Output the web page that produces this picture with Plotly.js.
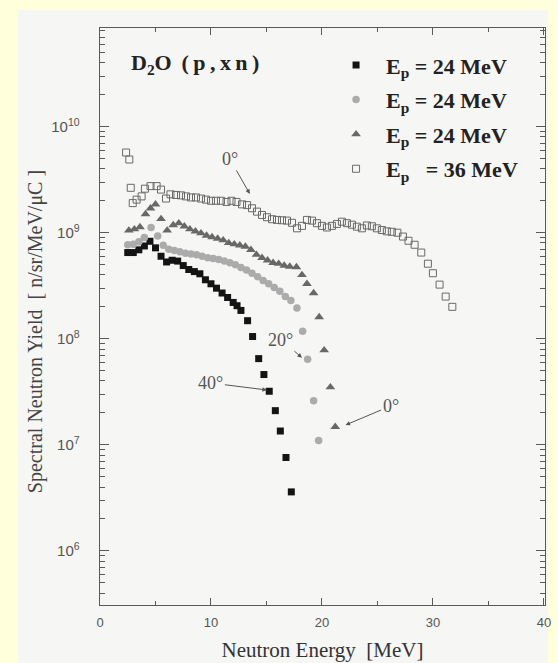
<!DOCTYPE html>
<html>
<head>
<meta charset="utf-8">
<script src="https://cdn.plot.ly/plotly-3.0.1.min.js"></script>
<style>
  html, body { margin: 0; padding: 0; background: #FFFFDC; }
  #chart { width: 558px; height: 663px; }
</style>
</head>
<body>
<div id="chart"></div>
<script>
// ---- data ----
const seriesNames = [
  "E<sub>p</sub> = 24 MeV",
  "E<sub>p</sub> = 24 MeV",
  "E<sub>p</sub> = 24 MeV",
  "E<sub>p</sub>\u00a0\u00a0 = 36 MeV"
];

// 40 deg, Ep = 24 MeV (filled black squares)
const x40 = [2.5, 3.0, 3.5, 4.0, 4.5, 5.0, 5.5, 6.0, 6.5, 7.0, 7.5, 8.0, 8.5, 9.0, 9.5,
             10.0, 10.5, 11.0, 11.5, 12.0, 12.35, 12.7, 13.3, 13.75, 14.3, 14.77, 15.25, 15.8, 16.25, 16.76, 17.24];
const y40 = [6.5e8, 6.5e8, 6.9e8, 7.5e8, 8.3e8, 7.2e8, 6.0e8, 5.3e8, 5.5e8, 5.4e8, 4.9e8, 4.5e8, 4.3e8, 4.1e8, 3.6e8,
             3.3e8, 3.0e8, 2.7e8, 2.45e8, 2.2e8, 2.05e8, 1.85e8, 1.48e8, 1.05e8, 6.5e7, 4.6e7, 3.2e7, 2.1e7, 1.35e7, 7.6e6, 3.6e6];

// 20 deg, Ep = 24 MeV (gray circles)
const x20 = [2.5, 3.0, 3.5, 4.0, 4.6, 5.2, 5.7, 6.2, 6.7, 7.2, 7.7, 8.2, 8.7, 9.2, 9.7,
             10.2, 10.7, 11.2, 11.7, 12.2, 12.7, 13.2, 13.7, 14.2, 14.7, 15.2, 15.7, 16.2, 16.7, 17.2,
             17.75, 18.26, 18.71, 19.25, 19.7];
const y20 = [7.7e8, 7.8e8, 8.2e8, 9.0e8, 1.12e9, 9.3e8, 7.6e8, 7.0e8, 6.8e8, 6.6e8, 6.4e8, 6.3e8, 6.2e8, 6.0e8, 5.8e8,
             5.7e8, 5.6e8, 5.4e8, 5.2e8, 5.0e8, 4.7e8, 4.45e8, 4.15e8, 3.85e8, 3.55e8, 3.3e8, 3.05e8, 2.8e8, 2.5e8, 2.3e8,
             1.95e8, 1.18e8, 6.4e7, 2.6e7, 1.1e7];

// 0 deg, Ep = 24 MeV (dark gray triangles)
const x0a = [2.6, 3.1, 3.6, 4.1, 4.55, 5.0, 5.5, 6.05, 6.6, 7.1, 7.6, 8.1, 8.6, 9.1, 9.6,
             10.1, 10.6, 11.1, 11.6, 12.1, 12.6, 13.1, 13.6, 14.1, 14.6, 15.1, 15.6, 16.1, 16.6, 17.1,
             17.7, 18.2, 18.65, 19.25, 19.75, 20.2, 20.76, 21.2];
const y0a = [1.05e9, 1.08e9, 1.13e9, 1.5e9, 1.7e9, 1.85e9, 1.35e9, 1.05e9, 1.18e9, 1.23e9, 1.15e9, 1.08e9, 1.03e9, 9.9e8, 9.4e8,
             9.1e8, 8.8e8, 8.5e8, 8.0e8, 7.8e8, 7.6e8, 7.4e8, 6.9e8, 6.2e8, 5.8e8, 5.5e8, 5.2e8, 5.1e8, 4.9e8, 4.8e8,
             4.75e8, 4.0e8, 3.3e8, 2.7e8, 1.6e8, 7.8e7, 3.5e7, 1.48e7];

// 0 deg, Ep = 36 MeV (open squares)
const x0b = [2.35, 2.64, 2.77, 2.95, 3.3, 3.75, 4.05, 4.55, 5.1, 5.5, 5.95, 6.35, 6.85, 7.3, 7.75,
             8.2, 8.65, 9.1, 9.55, 10.0, 10.45, 10.9, 11.4, 11.85, 12.3, 12.8, 13.25, 13.7, 14.15, 14.6,
             15.05, 15.5, 15.95, 16.4, 16.85, 17.3, 17.75, 18.2, 18.65, 19.1, 19.55, 20.0, 20.45, 20.9, 21.35,
             21.8, 22.25, 22.7, 23.15, 23.6, 24.05, 24.5, 24.95, 25.4, 25.85, 26.3, 26.8, 27.3, 27.8, 28.35,
             28.95, 29.55, 30.0, 30.6, 31.15, 31.75];
const y0b = [5.7e9, 4.9e9, 2.65e9, 1.9e9, 2.05e9, 2.2e9, 2.6e9, 2.75e9, 2.75e9, 2.55e9, 2.1e9, 2.3e9, 2.27e9, 2.25e9, 2.2e9,
             2.15e9, 2.15e9, 2.1e9, 2.05e9, 2.0e9, 2.0e9, 2.0e9, 1.95e9, 2.0e9, 1.95e9, 1.85e9, 1.82e9, 1.7e9, 1.58e9, 1.47e9,
             1.4e9, 1.34e9, 1.32e9, 1.31e9, 1.3e9, 1.24e9, 1.1e9, 1.16e9, 1.32e9, 1.3e9, 1.23e9, 1.16e9, 1.12e9, 1.16e9, 1.21e9,
             1.27e9, 1.23e9, 1.19e9, 1.14e9, 1.1e9, 1.17e9, 1.15e9, 1.1e9, 1.06e9, 1.03e9, 1.02e9, 1.0e9, 9.2e8, 8.4e8, 7.7e8,
             6.5e8, 5.1e8, 4.15e8, 3.24e8, 2.5e8, 2.0e8];

const xTickVals = [0, 10, 20, 30, 40];

// ---- styles ----
const serif = "Liberation Serif, Times New Roman, serif";
const sans = "Liberation Sans, Arial, sans-serif";
const axisGray = "#5a5a5a";

const traces = [
  { x: x40, y: y40, name: seriesNames[0], legendgroup: "a", mode: "markers", type: "scatter",
    marker: { symbol: "square", size: 7, color: "#141414" } },
  { x: x20, y: y20, name: seriesNames[1], legendgroup: "b", mode: "markers", type: "scatter",
    marker: { symbol: "circle", size: 7.5, color: "#ababab" } },
  { x: x0a, y: y0a, name: seriesNames[2], legendgroup: "c", mode: "markers", type: "scatter",
    marker: { symbol: "triangle-up", size: 8.5, color: "#686868" } },
  { x: x0b, y: y0b, name: seriesNames[3], legendgroup: "d", mode: "markers", type: "scatter",
    marker: { symbol: "square-open", size: 7, color: "#6a6a6a", line: { width: 1, color: "#6a6a6a" } } }
];

const annFont = { family: serif, size: 18, color: "#555" };
const arrow = { showarrow: true, arrowhead: 2, arrowsize: 0.9, arrowwidth: 1, arrowcolor: "#555", xref: "x", yref: "y" };

const layout = {
  width: 558, height: 663,
  margin: { l: 100, r: 13, t: 28, b: 58 },
  paper_bgcolor: "#FFFFDC",
  plot_bgcolor: "rgba(0,0,0,0)",
  showlegend: true,
  legend: {
    x: 0.508, y: 0.972, xanchor: "left", yanchor: "top",
    bgcolor: "rgba(0,0,0,0)", itemwidth: 50, tracegroupgap: 3,
    font: { family: serif, size: 22, color: "#222", weight: "bold" }
  },
  xaxis: {
    range: [0, 40.1], tickvals: xTickVals, ticks: "inside", ticklen: 7, tickcolor: axisGray,
    showline: true, linecolor: axisGray, linewidth: 1, mirror: "ticks",
    showgrid: false, zeroline: false,
    minor: { dtick: 5, tick0: 0, ticks: "inside", ticklen: 4, tickcolor: axisGray, showgrid: false },
    tickfont: { family: sans, size: 13, color: "#555" },
    ticklabelstandoff: 5,
    title: { text: "Neutron Energy\u00a0 [MeV]", font: { family: serif, size: 21, color: "#333" }, standoff: 13 }
  },
  yaxis: {
    type: "log", range: [5.49, 10.93], dtick: 1, exponentformat: "power", showexponent: "all",
    ticks: "inside", ticklen: 9, tickcolor: axisGray,
    showline: true, linecolor: axisGray, linewidth: 1, mirror: "ticks",
    showgrid: false, zeroline: false,
    minor: { dtick: "D1", ticks: "inside", ticklen: 5, tickcolor: axisGray, showgrid: false },
    tickfont: { family: sans, size: 12, color: "#555" },
    ticklabelstandoff: 17,
    title: { text: "Spectral Neutron Yield\u00a0 [ n/sr/MeV/\u03bcC ]<span style='color:rgba(0,0,0,0)'>nnn</span>",
             font: { family: serif, size: 20, color: "#444" }, standoff: 3 }
  },
  shapes: [
    { type: "rect", xref: "paper", yref: "paper", x0: -0.1843, x1: 1.0067, y0: -0.12, y1: 1.0312,
      fillcolor: "#F6F6F4", line: { width: 0 }, layer: "below" }
  ],
  annotations: [
    { xref: "paper", yref: "paper", x: 0.065, y: 0.937, xanchor: "left", yanchor: "middle", showarrow: false,
      text: "D<sub>2</sub>O\u2009 (\u2009p\u2009,\u2009x\u2009n\u2009)",
      font: { family: serif, size: 22, color: "#222", weight: "bold" } },
    Object.assign({ x: 13.5, y: 9.366, ax: -20, ay: -35, text: "0\u00b0", font: annFont }, arrow),
    Object.assign({ x: 18.2, y: 7.822, ax: -21, ay: -18, text: "20\u00b0", font: annFont }, arrow),
    Object.assign({ x: 15.04, y: 7.517, ax: -56, ay: -7, text: "40\u00b0", font: annFont }, arrow),
    Object.assign({ x: 22.13, y: 7.187, ax: 45, ay: -19, text: "0\u00b0", font: annFont }, arrow)
  ]
};

Plotly.newPlot("chart", traces, layout, { displayModeBar: false, staticPlot: true });
</script>
</body>
</html>
